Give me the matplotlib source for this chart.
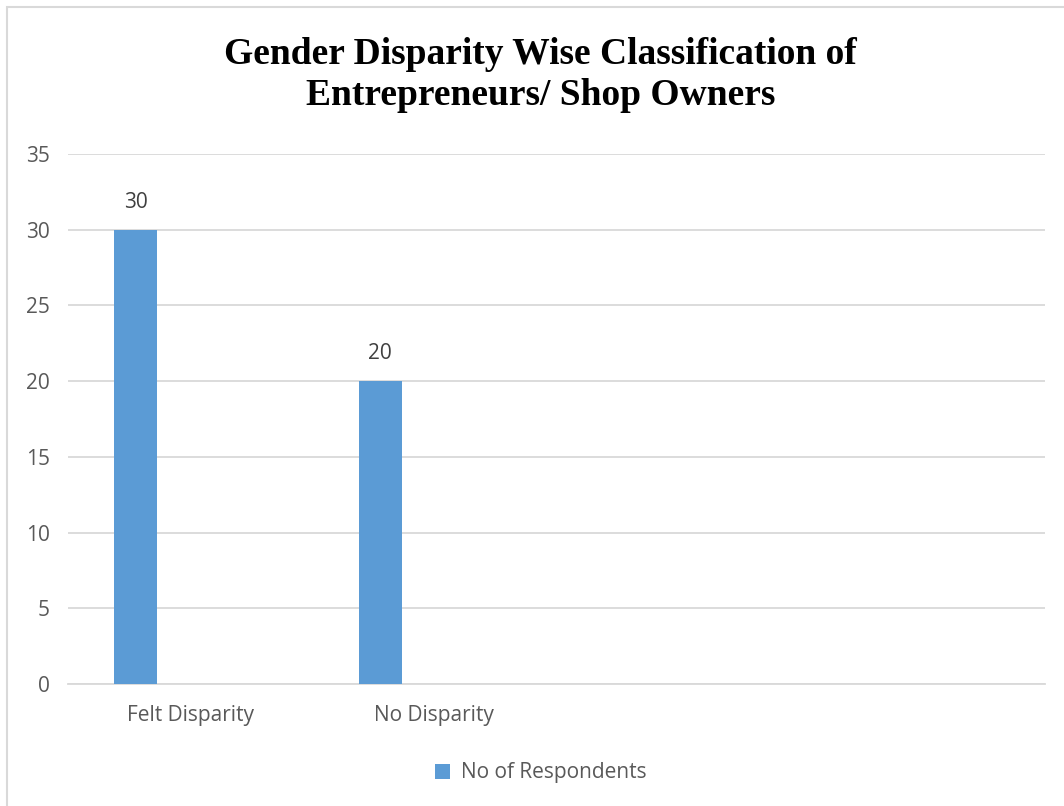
import matplotlib.pyplot as plt
from matplotlib.patches import Rectangle

# survey counts
categories = ['Felt Disparity', 'No Disparity']
respondents = [30, 20]
series_name = 'No of Respondents'
n_slots = 4          # chart keeps room for four category slots
yticks = [0, 5, 10, 15, 20, 25, 30, 35]

bar_col = '#5b9bd5'
txt_col = '#595959'
grid_col = '#d9d9d9'
plt.rcParams['font.family'] = ['Open Sans', 'DejaVu Sans']

fig = plt.figure(figsize=(10.64, 8.06), dpi=100)
ax = fig.add_axes([0.0639, 0.1514, 0.9183, 0.6576])

# outer chart border (runs off the right / bottom edge)
fig.patches.append(Rectangle((7/1064, -0.05), 1.2, 1 - 7/806 + 0.05,
                             transform=fig.transFigure, fill=False,
                             edgecolor='#d9d9d9', linewidth=1.5))

pos = [i - 0.2225 for i in range(len(categories))]
bars = ax.bar(pos, respondents, width=0.176, color=bar_col, label=series_name, zorder=3)
for b, v in zip(bars, respondents):
    ax.text(b.get_x() + b.get_width()/2, v + 1.1, str(v), ha='center', va='bottom',
            fontsize=15, color='#404040')

ax.set_xlim(-0.5, n_slots - 0.5)
ax.set_ylim(0, 35)
ax.set_yticks(yticks)
ax.set_xticks(range(len(categories)))
ax.set_xticklabels(categories)
ax.tick_params(axis='both', length=0, labelsize=15, labelcolor=txt_col)
ax.tick_params(axis='x', pad=15.5)
ax.tick_params(axis='y', pad=13)
ax.grid(axis='y', color=grid_col, linewidth=1.3, zorder=0)
for s in ['top', 'right', 'left']:
    ax.spines[s].set_visible(False)
ax.spines['bottom'].set_color(grid_col)
ax.spines['bottom'].set_linewidth(1.3)

fig.text(0.508, 0.907, 'Gender Disparity Wise Classification of\nEntrepreneurs/ Shop Owners',
         ha='center', va='center', fontsize=27, fontweight='bold',
         family='Liberation Serif', linespacing=1.25)

fig.legend(handles=[bars], labels=[series_name], loc='center', bbox_to_anchor=(0.508, 0.041),
           frameon=False, fontsize=15, labelcolor=txt_col, handlelength=0.75,
           handleheight=0.75, handletextpad=0.5)

fig.savefig('out.png', dpi=100)
